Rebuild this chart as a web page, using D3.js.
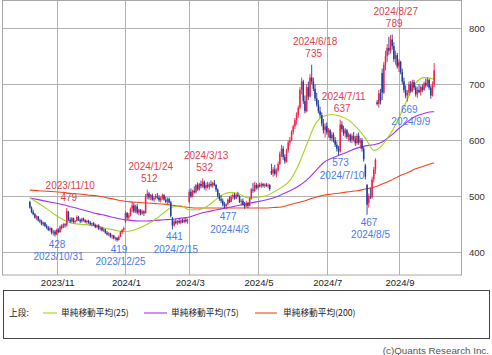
<!DOCTYPE html>
<html><head><meta charset="utf-8">
<script src="https://cdn.jsdelivr.net/npm/d3@7"></script>
<style>body{margin:0;background:#fff}svg{display:block}</style>
</head><body><svg id="c" width="492" height="355"></svg>
<script>
// trading-day indexed daily OHLC, 2023-10-10 .. 2024-10-03
const opens = [490,480,472,468,462,464,457,455,450,453,447,444,440,443,435,437,
432,440,436,446,444,450,448,472,458,455,461,454,456,463,458,455,460,457,454,456,
453,450,452,449,445,448,442,444,439,441,435,432,434,428,430,425,426,422,428,436,440,
455,470,462,466,478,484,473,482,471,476,469,473,470,500,505,498,502,494,497,
500,498,493,497,502,494,490,495,489,460,448,455,452,456,453,457,454,458,455,
490,508,500,510,507,520,512,522,518,526,515,520,517,522,519,524,520,512,501,495,
492,485,482,486,494,490,499,502,496,503,500,490,492,485,482,488,483,496,512,510,520,
515,520,518,522,519,521,518,520,545,541,548,540,546,558,576,585,570,562,582,596,600,
615,625,636,645,658,690,705,670,652,695,678,712,705,692,675,664,652,645,630,618,
625,614,618,604,610,600,592,585,580,628,620,612,618,606,610,600,608,602,595,608,596,600,
585,555,520,488,500,498,530,548,668,665,684,720,685,735,750,765,760,780,768,745,752,
732,740,722,705,690,680,685,700,688,704,694,682,690,686,695,690,702,698,708,694,680,700];
const highs = [492,482,476,470,466,465,460,458,455,454,450,447,446,444,440,440,
442,443,448,450,452,452,479,474,462,463,462,458,466,465,460,462,462,459,458,458,
456,453,454,451,450,450,446,445,443,442,438,436,435,432,431,428,427,430,438,442,446,
474,472,470,480,490,488,485,486,478,477,476,475,504,512,508,504,505,500,504,
506,502,500,505,504,499,498,498,492,463,458,460,458,460,459,460,461,462,460,
512,514,512,518,522,525,524,528,532,528,524,526,525,528,526,529,522,514,506,502,
496,490,488,496,500,502,505,506,504,508,502,495,496,490,492,490,498,515,524,526,524,
522,524,525,524,523,524,523,522,558,552,556,550,562,580,592,590,575,585,600,606,618,
628,640,650,662,695,712,708,680,700,705,718,735,712,700,685,672,660,650,638,630,
632,622,620,615,614,606,598,590,637,634,626,622,620,614,612,612,615,608,612,614,604,604,
588,558,522,505,515,535,552,568,672,690,692,728,740,760,772,785,788,789,775,760,756,
745,742,728,712,698,690,705,706,708,708,698,696,700,698,700,705,710,712,710,698,705,738];
const lows = [478,470,466,460,458,455,452,448,447,445,442,438,437,432,430,428,
431,434,435,441,443,444,446,456,452,453,452,451,455,456,452,453,455,452,450,451,
448,446,447,443,443,440,439,437,436,433,430,429,426,424,423,421,419,421,427,433,437,
452,458,458,464,472,470,470,468,466,466,467,465,469,495,494,493,492,490,494,
495,490,489,494,492,488,486,487,462,441,446,450,449,451,450,452,452,453,451,
487,497,498,505,505,510,510,514,515,512,510,514,512,516,515,518,508,498,492,488,
482,479,477,484,488,489,495,494,495,498,488,484,483,478,480,479,482,494,506,508,512,
512,516,515,516,515,517,514,510,538,535,537,534,544,556,570,565,558,560,578,590,598,
610,620,628,640,655,682,665,648,650,672,676,700,688,670,660,648,640,625,612,605,
610,605,600,598,596,588,580,573,578,615,608,605,602,598,596,595,598,590,592,592,585,580,
562,530,467,480,495,496,525,540,662,658,664,672,683,725,740,752,755,762,740,735,728,
722,718,700,685,675,669,680,685,686,690,678,676,684,680,686,688,694,695,690,674,678,695];
const closes = [480,472,468,462,464,457,455,450,453,447,444,440,443,435,437,432,
440,436,446,444,450,448,474,458,455,461,454,456,463,458,455,460,457,454,456,453,
450,452,449,445,448,442,444,439,441,435,432,434,428,430,425,426,422,428,436,440,443,
470,462,466,478,484,473,482,471,476,469,473,470,500,505,498,502,494,497,500,
498,493,497,502,494,490,495,489,465,448,455,452,456,453,457,454,458,455,458,
508,500,510,507,520,512,522,518,526,515,520,517,522,519,524,520,512,501,495,492,
485,482,486,494,490,499,502,496,503,500,490,492,485,482,488,483,496,512,510,520,515,
520,518,522,519,521,518,520,513,541,548,540,546,558,576,585,570,562,582,596,600,615,
625,636,645,658,690,705,670,652,695,678,712,705,692,675,664,652,645,630,618,625,
614,618,604,610,600,592,585,580,628,620,612,618,606,610,600,608,602,595,608,596,600,585,
566,535,485,500,498,530,548,565,665,684,670,685,735,750,765,760,780,768,745,752,732,
740,722,705,690,680,685,700,688,704,694,682,690,686,695,690,702,698,708,694,680,700,725];

const maIdx = [0,5,10,15,20,25,30,35,40,45,50,55,60,65,70,75,80,85,90,95,100,105,110,115,120,125,130,135,140,145,150,155,160,165,170,175,180,185,190,195,200,205,210,215,220,225,230,235,240,241];
const ma25 = [497,488,478,467,458,452,450,449,447,443,440,437,438,443,450,459,471,481,483,476,476,481,492,503,507,504,497,498,500,507,516,528,555,592,628,643,646,643,636,622,604,582,591,612,640,673,702,712,710,709];
const ma75 = [497,494,491,488,485,481,477,473,469,466,462,459,457,456,456,457,458,459,461,463,468,472,475,478,481,484,487,490,493,497,503,510,518,529,544,560,568,574,580,586,590,592,597,608,621,633,643,648,651,651];
const ma200 = [511,510,509,508,507,505,504,502,501,498,495,492,490,489,488,487,486,484,482,480,479,479,479,479,479,479,479,479,479,480,481,485,489,493,498,502,504,506,508,510,513,516,522,528,536,542,549,554,559,560];

const xTickIdx = [16,57,95,136,177,220];
const xTickLabels = ["2023/11","2024/1","2024/3","2024/5","2024/7","2024/9"];
const yTicks = [400,500,600,700,800];

const peakIdx = [22,70,103,168,185,216];
const peakDates = ["2023/11/10","2024/1/24","2024/3/13","2024/6/18","2024/7/11","2024/8/27"];
const peakVals = [479,512,532,735,637,789];
const troughIdx = [15,52,85,117,184,201,225];
const troughDates = ["2023/10/31","2023/12/25","2024/2/15","2024/4/3","2024/7/10","2024/8/5","2024/9/9"];
const troughVals = [428,419,441,477,573,467,669];

const legendLabels = ["単純移動平均(25)","単純移動平均(75)","単純移動平均(200)"];
const maColors = ["#a6d31e","#a033f0","#f2461e"];

const svg = d3.select("#c");
const L = 2.5, R = 461.5, T = 0.5, B = 275;
const x = d3.scaleLinear().domain([-16, 257]).range([3, 461]);
const y = d3.scaleLinear().domain([400, 800]).range([252.3, 28.3]);
const font = "'Liberation Sans', Arial, sans-serif";

svg.append("defs").append("clipPath").attr("id","pc")
  .append("rect").attr("x",L).attr("y",T).attr("width",R-L).attr("height",B-T);

// grid
const g = svg.append("g");
g.selectAll(".hy").data(yTicks).join("line")
  .attr("x1",L).attr("x2",R).attr("y1",d=>Math.round(y(d))+0.5).attr("y2",d=>Math.round(y(d))+0.5)
  .attr("stroke","#b2b2b2").attr("stroke-width",1);
g.selectAll(".vx").data(xTickIdx).join("line")
  .attr("y1",T).attr("y2",B).attr("x1",d=>Math.round(x(d))+0.5).attr("x2",d=>Math.round(x(d))+0.5)
  .attr("stroke","#b2b2b2").attr("stroke-width",1);
g.append("rect").attr("x",L).attr("y",T).attr("width",R-L).attr("height",B-T)
  .attr("fill","none").attr("stroke","#a8a8a8").attr("stroke-width",1);

// y labels
svg.selectAll(".yl").data(yTicks).join("text")
  .attr("x",469).attr("y",d=>y(d)+3.5).text(d=>d)
  .attr("font-family",font).attr("font-size",9.5).attr("fill","#333");
// x labels
svg.selectAll(".xl").data(xTickIdx).join("text")
  .attr("x",d=>x(d)+1).attr("y",286).attr("text-anchor","middle")
  .text((d,i)=>xTickLabels[i])
  .attr("font-family",font).attr("font-size",9.5).attr("fill","#222");

const plot = svg.append("g").attr("clip-path","url(#pc)");

// MA lines
[ma200, ma75, ma25].forEach((arr, k) => {
  const col = [maColors[2], maColors[1], maColors[0]][k];
  const line = d3.line().x((d,i)=>x(maIdx[i])).y(d=>y(d)).curve(d3.curveMonotoneX);
  plot.append("path").attr("d", line(arr)).attr("fill","none")
    .attr("stroke", col).attr("stroke-width", 1.1);
});

// candles
const red = "#f41f48", blue = "#1d3c9c";
const idx = d3.range(opens.length);
plot.selectAll(".wk").data(idx).join("line")
  .attr("x1",i=>x(i)).attr("x2",i=>x(i))
  .attr("y1",i=>y(highs[i])).attr("y2",i=>y(lows[i]))
  .attr("stroke",i=>closes[i]>=opens[i]?red:blue).attr("stroke-width",0.9);
plot.selectAll(".bd").data(idx).join("rect")
  .attr("x",i=>x(i)-0.75).attr("width",1.5)
  .attr("y",i=>y(Math.max(opens[i],closes[i])))
  .attr("height",i=>Math.max(1, Math.abs(y(opens[i])-y(closes[i]))))
  .attr("fill",i=>closes[i]>=opens[i]?red:blue);

// annotations
const redT = "#e2404c", blueT = "#4b7be8";
peakIdx.forEach((pi,k)=>{
  const yy = y(peakVals[k]) - 7.5;
  svg.append("text").attr("x",x(pi)+2).attr("y",yy).attr("text-anchor","middle")
    .text(peakVals[k]).attr("font-family",font).attr("font-size",10).attr("fill",redT);
  svg.append("text").attr("x",x(pi)+3.5).attr("y",yy-12).attr("text-anchor","middle")
    .text(peakDates[k]).attr("font-family",font).attr("font-size",10).attr("fill",redT);
});
troughIdx.forEach((ti,k)=>{
  const yy = y(troughVals[k]) + 11;
  svg.append("text").attr("x",x(ti)+2).attr("y",yy).attr("text-anchor","middle")
    .text(troughVals[k]).attr("font-family",font).attr("font-size",10).attr("fill",blueT);
  svg.append("text").attr("x",x(ti)+3.5).attr("y",yy+12.5).attr("text-anchor","middle")
    .text(troughDates[k]).attr("font-family",font).attr("font-size",10).attr("fill",blueT);
});

// legend
const lg = svg.append("g");
lg.append("rect").attr("x",3.5).attr("y",290.5).attr("width",486).attr("height",48)
  .attr("fill","#fff").attr("stroke","#444").attr("stroke-width",1);
const jf = "'Noto Sans CJK JP', sans-serif";
lg.append("text").attr("x",9).attr("y",316).text("上段:").attr("font-family",jf)
  .attr("font-size",8.7).attr("fill","#222");
const lx = [[43,57,61],[144,167,171],[255,277,283]];
legendLabels.forEach((t,k)=>{
  lg.append("line").attr("x1",lx[k][0]).attr("x2",lx[k][1]).attr("y1",313).attr("y2",313)
    .attr("stroke",maColors[k]).attr("stroke-width",1.1);
  lg.append("text").attr("x",lx[k][2]).attr("y",316).text(t).attr("font-family",jf)
    .attr("font-size",8.7).attr("fill","#222");
});
svg.append("text").attr("x",489).attr("y",354).attr("text-anchor","end")
  .text("(c)Quants Research Inc.").attr("font-family",font).attr("font-size",9.8).attr("fill","#555");
</script></body></html>
